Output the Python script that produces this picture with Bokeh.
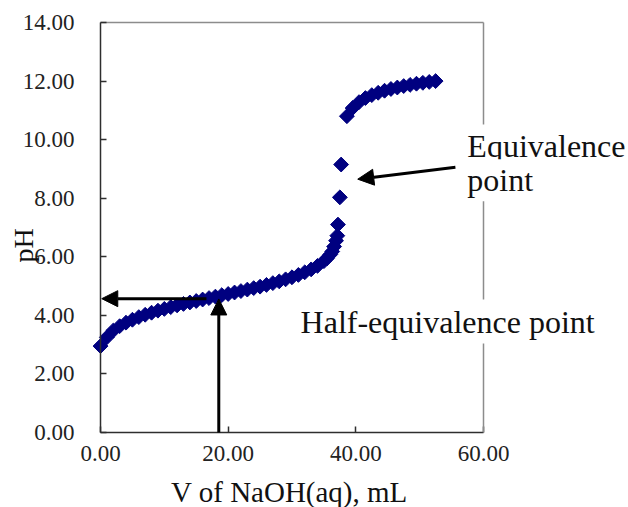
import math
from bokeh.plotting import figure
from bokeh.models import (Label, Arrow, NormalHead, FixedTicker, PrintfTickFormatter,
                          ColumnDataSource, LinearAxis, Range1d)
from bokeh.embed import file_html
from bokeh.resources import INLINE

# Titration data: volume of NaOH (mL) and pH
volume_ml = [0, 1, 2, 3, 4, 5, 6, 7, 8, 9, 10, 11, 12, 13, 14, 15, 16, 17, 18, 19,
             20, 21, 22, 23, 24, 25, 26, 27, 28, 29, 30, 31, 32, 33, 34, 35,
             35.5, 36, 36.3, 36.6, 36.9, 37.1, 37.2, 37.5, 37.7, 38.6,
             39.5, 40.5, 41.5, 42.5, 43.5, 44.5, 45.5, 46.5, 47.5, 48.5,
             49.5, 50.5, 51.5, 52.5]
ph_values = [2.95, 3.25, 3.48, 3.63, 3.75, 3.85, 3.94, 4.02, 4.09, 4.16, 4.22, 4.28,
             4.34, 4.39, 4.44, 4.49, 4.54, 4.59, 4.64, 4.69, 4.73, 4.78, 4.83, 4.88,
             4.93, 4.98, 5.04, 5.10, 5.16, 5.23, 5.30, 5.38, 5.47, 5.57, 5.69, 5.85,
             5.95, 6.08, 6.18, 6.35, 6.55, 6.72, 7.10, 8.03, 9.15, 10.80,
             11.08, 11.28, 11.42, 11.52, 11.60, 11.67, 11.73, 11.78, 11.83, 11.87,
             11.91, 11.94, 11.97, 12.00]

x_ticks = [0, 20, 40, 60]
y_ticks = [0, 2, 4, 6, 8, 10, 12, 14]
X_MIN, X_MAX = 0, 60
Y_MIN, Y_MAX = 0, 14

SERIF = "Liberation Serif"

# Canvas geometry (px): plot box from (100, 22) to (483, 432) on a 628x507 canvas
W, H = 628, 507
BOX_L, BOX_R, BOX_T, BOX_B = 100, 483, 22, 432
sx = (BOX_R - BOX_L) / (X_MAX - X_MIN)
sy = (BOX_B - BOX_T) / (Y_MAX - Y_MIN)
x_range = Range1d(X_MIN - BOX_L / sx, X_MAX + (W - BOX_R) / sx)
y_range = Range1d(Y_MIN - (H - BOX_B) / sy, Y_MAX + BOX_T / sy)

p = figure(width=W, height=H, x_range=x_range, y_range=y_range,
           output_backend="svg", toolbar_location=None,
           min_border=0, min_border_left=0, min_border_right=0,
           min_border_top=0, min_border_bottom=0)

p.xgrid.visible = False
p.ygrid.visible = False
p.outline_line_color = None
p.background_fill_color = "white"
p.border_fill_color = "white"

xa = p.xaxis[0]
ya = p.yaxis[0]
xa.fixed_location = Y_MIN
ya.fixed_location = X_MIN
xa.bounds = (X_MIN, X_MAX)
ya.bounds = (Y_MIN, Y_MAX)
for ax in (xa, ya):
    ax.axis_line_color = "#2e2e2e"
    ax.axis_line_width = 1.5
    ax.major_tick_line_color = "#2e2e2e"
    ax.major_tick_line_width = 1.5
    ax.major_tick_in = 6
    ax.major_tick_out = 0
    ax.minor_tick_line_color = None
    ax.major_label_text_font = SERIF
    ax.major_label_text_font_size = "23px"
    ax.major_label_text_color = "#222222"
    ax.formatter = PrintfTickFormatter(format="%.2f")
xa.ticker = FixedTicker(ticks=x_ticks)
ya.ticker = FixedTicker(ticks=y_ticks)
xa.major_label_standoff = 13
ya.major_label_standoff = 26

# Grey top and right border of the plot box
top_ax = LinearAxis(fixed_location=Y_MAX, bounds=(X_MIN, X_MAX),
                    ticker=FixedTicker(ticks=[]), axis_line_color="#8c8c8c",
                    axis_line_width=1.5, minor_tick_line_color=None)
right_ax = LinearAxis(fixed_location=X_MAX, bounds=(Y_MIN, Y_MAX),
                      ticker=FixedTicker(ticks=[]), axis_line_color="#8c8c8c",
                      axis_line_width=1.5, minor_tick_line_color=None)
p.add_layout(top_ax, "above")
p.add_layout(right_ax, "right")

src = ColumnDataSource(dict(v=volume_ml, ph=ph_values))
p.scatter("v", "ph", source=src, marker="square", size=10.5, angle=math.pi / 4,
          fill_color="#000080", line_color="#000080")

# Arrows
head = dict(size=16, fill_color="black", line_color="black")
p.add_layout(Arrow(end=NormalHead(**head), x_start=16.6, y_start=4.57,
                   x_end=0.2, y_end=4.57, line_width=3, line_color="black"))
p.add_layout(Arrow(end=NormalHead(**head), x_start=18.53, y_start=0,
                   x_end=18.53, y_end=4.56, line_width=3, line_color="black"))
p.add_layout(Arrow(end=NormalHead(**head), x_start=55.6, y_start=9.06,
                   x_end=40.3, y_end=8.65, line_width=3, line_color="black"))

# Annotation texts
def txt(x, y, s, size, **kw):
    lab = Label(x=x, y=y, text=s, text_font=SERIF, text_font_size=size,
                text_color="#111111", **kw)
    p.add_layout(lab)
    return lab

txt(57.0, 9.80, "Equivalence", "32px", text_baseline="alphabetic",
    background_fill_color="white", padding=3)
txt(57.0, 8.61, "point", "32px", text_baseline="alphabetic",
    background_fill_color="white", padding=3)
txt(30.72, 3.79, "Half-equivalence point", "32px", text_baseline="alphabetic",
    background_fill_color="white", padding=4)

# Axis titles
txt(29.6, -2.02, "V of NaOH(aq), mL", "29px", text_align="center",
    text_baseline="alphabetic")
txt(-12.1, 6.39, "pH", "28px", text_align="center", text_baseline="middle",
    angle=math.pi / 2)

open("out.html", "w").write(file_html(p, INLINE))
